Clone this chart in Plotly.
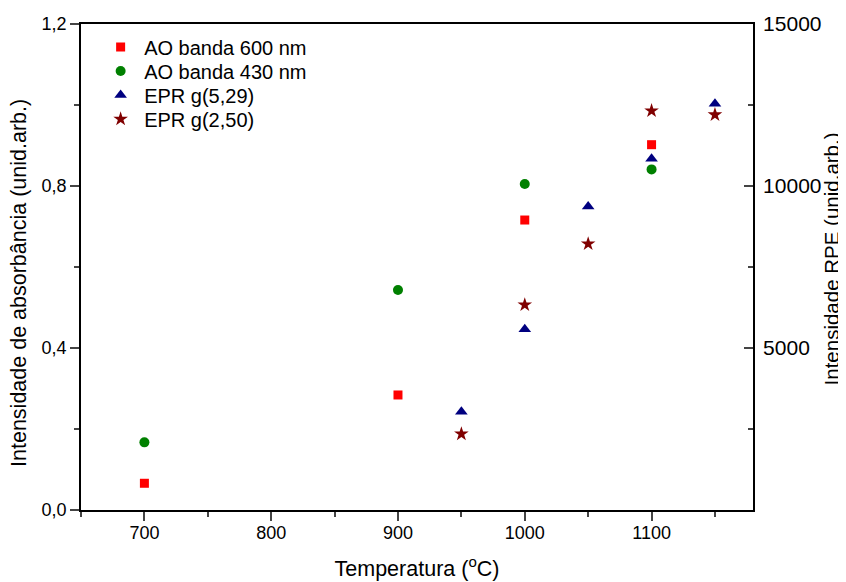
import plotly.graph_objects as go

# Data
temp_ao = [700, 900, 1000, 1100]
ao_600 = [0.066, 0.284, 0.716, 0.902]
ao_430 = [0.167, 0.543, 0.805, 0.841]

temp_epr = [950, 1000, 1050, 1100, 1150]
epr_529 = [3036, 5581, 9367, 10840, 12538]
epr_250 = [2347, 6331, 8215, 12322, 12199]

x_ticks = [700, 800, 900, 1000, 1100]
left_ticks = [0.0, 0.4, 0.8, 1.2]
right_ticks = [5000, 10000, 15000]

FONT = "Liberation Sans, Arial, sans-serif"

fig = go.Figure()
fig.add_trace(go.Scatter(x=temp_ao, y=ao_600, mode="markers", name="AO banda 600 nm", legend="legend",
                         marker=dict(symbol="square", size=9, color="#FF0000")))
fig.add_trace(go.Scatter(x=temp_ao, y=ao_430, mode="markers", name="AO banda 430 nm", legend="legend2",
                         marker=dict(symbol="circle", size=10, color="#008000")))
fig.add_trace(go.Scatter(x=temp_epr, y=epr_529, mode="markers", name="EPR g(5,29)", yaxis="y2",
                         legend="legend3",
                         marker=dict(symbol="triangle-up", size=11, color="#000080")))
fig.add_trace(go.Scatter(x=temp_epr, y=epr_250, mode="markers", name="EPR g(2,50)", yaxis="y2",
                         legend="legend4",
                         marker=dict(symbol="star", size=11, color="#800000")))


def leg(ypos):
    return dict(x=0.024, y=ypos, xanchor="left", yanchor="middle",
                bgcolor="rgba(0,0,0,0)", borderwidth=0, itemwidth=37,
                font=dict(size=20, family=FONT))


# page body has an 8px margin, so the figure is sized 8px smaller than the window
fig.update_layout(
    width=838, height=574,
    margin=dict(l=73, r=93, t=16, b=72, autoexpand=False),
    paper_bgcolor="white", plot_bgcolor="white",
    separators=",.",
    font=dict(family=FONT, color="black"),
    showlegend=True,
    legend=leg(0.9527), legend2=leg(0.9033), legend3=leg(0.8539), legend4=leg(0.8045),
    xaxis=dict(range=[650, 1180], tickvals=x_ticks, ticks="outside", ticklen=9, tickwidth=1.5,
               showline=True, linecolor="black", linewidth=1.8, mirror=True,
               showgrid=False, zeroline=False, ticklabelstandoff=-4,
               tickfont=dict(size=18),
               minor=dict(dtick=50, tick0=650, ticks="outside", ticklen=5, tickwidth=1.5, showgrid=False),
               title=dict(text="Temperatura (<sup>o</sup>C)", font=dict(size=21.5), standoff=19)),
    yaxis=dict(range=[0, 1.2], tickvals=left_ticks, tickformat=".1f", ticks="outside", ticklen=9,
               tickwidth=1.5, showline=True, linecolor="black", linewidth=1.8,
               showgrid=False, zeroline=False, tickfont=dict(size=18),
               minor=dict(dtick=0.2, tick0=0, ticks="outside", ticklen=5, tickwidth=1.5, showgrid=False)),
    yaxis2=dict(range=[0, 15000], overlaying="y", side="right", tickvals=right_ticks, tickformat="d",
                ticks="inside", ticklen=9, tickwidth=1.5, showline=True, linecolor="black", linewidth=1.8,
                showgrid=False, zeroline=False, tickfont=dict(size=21), ticklabelstandoff=4,
                minor=dict(dtick=2500, tick0=0, ticks="inside", ticklen=5, tickwidth=1.5, showgrid=False)),
    annotations=[
        dict(text="Intensidade de absorbância (unid.arb.)", textangle=-90, xref="paper", yref="paper",
             x=-0.0924, y=0.467, xanchor="center", yanchor="middle", showarrow=False,
             font=dict(size=21.5, family=FONT)),
        dict(text="Intensidade RPE (unid.arb.)", textangle=-90, xref="paper", yref="paper",
             x=1.1171, y=0.517, xanchor="center", yanchor="middle", showarrow=False,
             font=dict(size=20.5, family=FONT)),
    ],
)

fig.write_html("out.html")
